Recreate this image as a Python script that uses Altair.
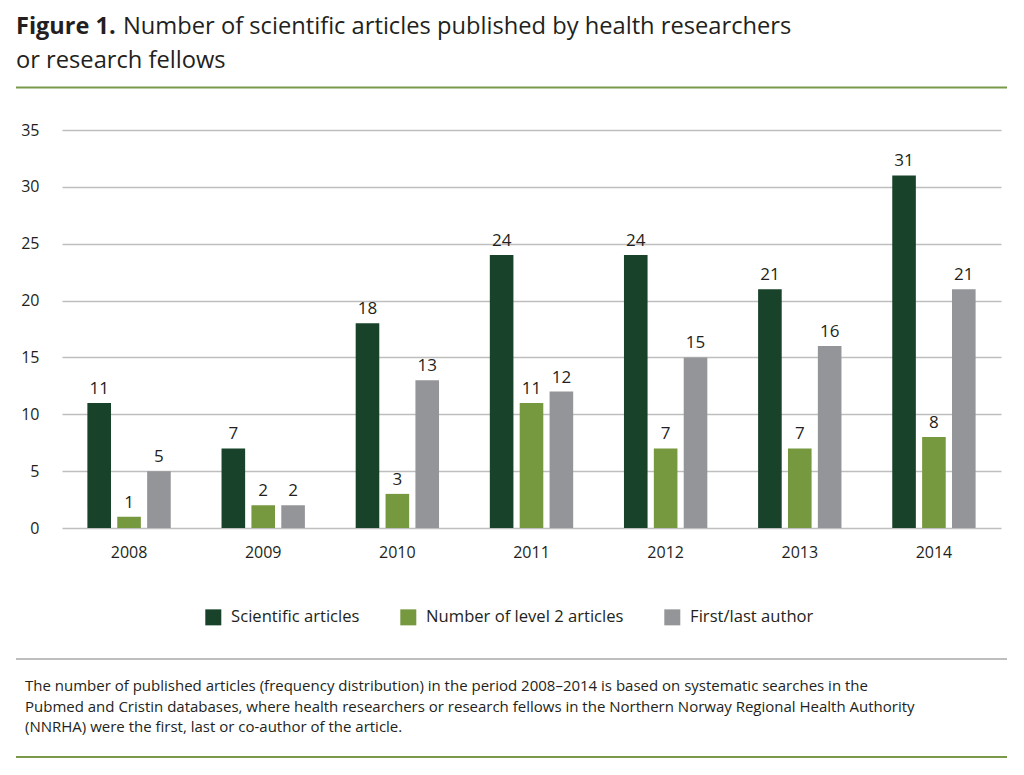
import altair as alt
import pandas as pd

years = ["2008", "2009", "2010", "2011", "2012", "2013", "2014"]
series = ["Scientific articles", "Number of level 2 articles", "First/last author"]
scientific = [11, 7, 18, 24, 24, 21, 31]
level2 = [1, 2, 3, 11, 7, 7, 8]
first_last = [5, 2, 13, 12, 15, 16, 21]
colors = ["#18432A", "#76983E", "#939598"]

title_bold = "Figure 1."
title_line1 = "Number of scientific articles published by health researchers"
title_line2 = "or research fellows"
footnote = [
    "The number of published articles (frequency distribution) in the period 2008\u20132014 is based on systematic searches in the",
    "Pubmed and Cristin databases, where health researchers or research fellows in the Northern Norway Regional Health Authority",
    "(NNRHA) were the first, last or co-author of the article.",
]

rows = []
for i, y in enumerate(years):
    for s, vals in zip(series, [scientific, level2, first_last]):
        rows.append({"year": y, "series": s, "value": vals[i]})
df = pd.DataFrame(rows)

FONT = "Open Sans"
W, H = 939, 398

x_enc = alt.X("year:N", sort=years, title=None,
              scale=alt.Scale(paddingInner=0, paddingOuter=0),
              axis=alt.Axis(labelAngle=0, labelFontSize=16, labelFont=FONT, labelColor="#231F20",
                            ticks=False, domain=False, labelPadding=16, grid=False))
xo_enc = alt.XOffset("series:N", sort=series,
                     scale=alt.Scale(paddingInner=0.21, paddingOuter=0.85))
y_enc = alt.Y("value:Q", title=None,
              scale=alt.Scale(domain=[0, 35]),
              axis=alt.Axis(values=list(range(0, 36, 5)), labelFontSize=16, labelFont=FONT,
                            labelColor="#231F20", ticks=False, domain=False, labelPadding=23,
                            grid=True, gridColor="#BEBEBE", gridWidth=1.5))
color_enc = alt.Color("series:N", sort=series, title=None,
                      scale=alt.Scale(domain=series, range=colors),
                      legend=alt.Legend(orient="none", legendX=143, legendY=479, direction="horizontal",
                                        symbolType="square", symbolSize=256, symbolStrokeWidth=0,
                                        labelFontSize=16.6, labelFont=FONT, labelColor="#231F20",
                                        labelLimit=0, labelOffset=9.5, columnPadding=40))

bars = alt.Chart(df).mark_bar().encode(x=x_enc, xOffset=xo_enc, y=y_enc, color=color_enc)
labels = alt.Chart(df).mark_text(baseline="alphabetic", dy=-9, fontSize=17, font=FONT, color="#231F20").encode(
    x=alt.X("year:N", sort=years), xOffset=alt.XOffset("series:N", sort=series), y="value:Q", text="value:Q")

one = alt.Data(values=[{"k": 1}])

def txt(s, x, y, size, weight="normal"):
    return alt.Chart(one).mark_text(align="left", baseline="alphabetic", fontSize=size, font=FONT,
                                    fontWeight=weight, color="#231F20").encode(
        x=alt.value(x), y=alt.value(y), text=alt.value(s))

def rule(x1, x2, y, color, w):
    return alt.Chart(one).mark_rule(color=color, strokeWidth=w).encode(
        x=alt.value(x1), x2=alt.value(x2), y=alt.value(y))

layers = [bars, labels,
          txt(title_bold, -46, -96.5, 23.5, "bold"),
          txt(title_line1, 61, -96.5, 23.7),
          txt(title_line2, -46, -62.5, 23.7),
          rule(-46, 945, -42.5, "#7A9A4A", 2),
          rule(-46, 945, 529, "#BEBEBE", 2),
          rule(-46, 945, 627, "#7A9A4A", 2)]
for i, line in enumerate(footnote):
    layers.append(txt(line, -37, 561 + i * 20.5, 15))

chart = alt.layer(*layers).properties(
    width=W, height=H,
    autosize=alt.AutoSizeParams(type="none"),
    padding={"left": 54, "top": 122, "right": 15, "bottom": 239},
    background="white",
).configure_view(stroke=None)

chart.save("out.html", embed_options={"renderer": "svg", "actions": False})
